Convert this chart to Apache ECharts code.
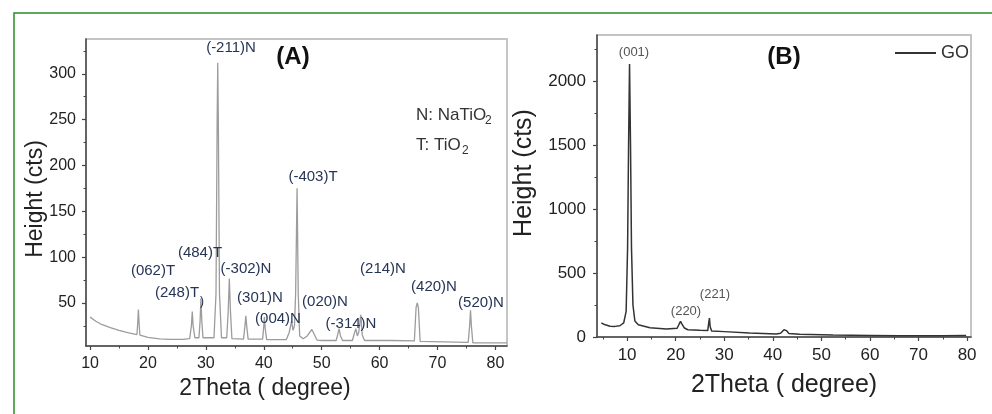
<!DOCTYPE html>
<html>
<head>
<meta charset="utf-8">
<script src="https://cdn.jsdelivr.net/npm/echarts@6.0.0/dist/echarts.min.js"></script>
<style>
  html, body { margin: 0; padding: 0; background: #fff; }
  #chart { width: 992px; height: 414px; }
</style>
</head>
<body>
<div id="chart"></div>
<script>
// (A) NaTiO2 / TiO2 pattern
const aTheta = [10.0, 11.0, 12.0, 13.5, 15.0, 16.5, 18.1, 18.25, 18.35, 18.45, 18.6, 20.0, 22.0, 24.0, 26.0,
  27.2, 27.5, 27.65, 27.8, 28.1, 28.8, 29.0, 29.15, 29.3, 29.5, 31.4, 31.75, 31.95, 32.05, 32.15, 32.35, 32.7,
  33.6, 33.85, 34.05, 34.25, 34.5, 36.5, 36.75, 36.9, 37.05, 37.3, 39.8, 40.0, 40.1, 40.25, 40.5,
  43.9, 44.4, 44.8, 45.05, 45.3, 45.5, 45.75, 45.95, 46.2, 46.8, 47.5, 48.3, 49.2, 50.0,
  52.5, 52.75, 53.0, 53.25, 53.6, 55.3, 55.7, 55.9, 56.15, 56.4, 56.75, 57.0, 57.4, 62.0, 66.0,
  66.3, 66.5, 66.7, 67.0, 75.3, 75.55, 75.7, 75.85, 76.1, 80.0, 82.0];
const aHeight = [34.5, 30, 26.5, 23, 20, 17.5, 15.5, 30, 42.7, 30, 15, 12.5, 10.8, 10.3, 10.3,
  11, 25, 40.5, 25, 12, 12, 30, 55, 30, 12, 12, 60, 250, 312, 250, 60, 12,
  12, 40, 76.5, 40, 11, 10.5, 25, 36, 25, 10.5, 10.5, 25, 35, 22, 10,
  10, 18, 30, 20, 25, 60, 175, 60, 14, 11, 14, 21, 9.5, 9,
  9, 15, 22, 14, 9, 9, 18, 22, 14, 18, 37, 15, 9, 9, 8.5,
  45, 50, 45, 8, 7, 25, 42, 25, 6.5, 6.5, 6.5];

// (B) GO pattern
const bTheta = [4.7, 5.5, 6.5, 7.5, 8.5, 9.3, 9.8, 10.1, 10.3, 10.5, 10.7, 10.9, 11.2, 11.6, 12.3, 14.7, 18.1,
  20.3, 20.7, 21.0, 21.3, 21.8, 22.5, 25.0, 26.6, 26.8, 26.95, 27.1, 27.4, 30.0, 35.2, 40.7, 41.6, 42.3,
  42.8, 43.3, 45.5, 52.4, 60.0, 66.0, 75.0, 79.8];
const bHeight = [109, 95, 84, 83, 88, 110, 200, 700, 1500, 2133, 1500, 700, 250, 125, 95, 72, 63,
  68, 100, 122, 100, 70, 57, 52, 50, 110, 148, 80, 47, 42, 31, 24, 30, 57,
  50, 28, 22, 15, 12, 10, 9, 12];

// tick positions
const aXTicks = [10, 20, 30, 40, 50, 60, 70, 80];
const aXMinor = [15, 25, 35, 45, 55, 65, 75];
const aYTicks = [50, 100, 150, 200, 250, 300];
const aYMinor = [25, 75, 125, 175, 225, 275, 325];
const bXTicks = [10, 20, 30, 40, 50, 60, 70, 80];
const bXMinor = [5, 15, 25, 35, 45, 55, 65, 75];
const bYTicks = [0, 500, 1000, 1500, 2000];
const bYMinor = [250, 750, 1250, 1750, 2250];

const FONT = '"Liberation Sans", Arial, sans-serif';
const AXIS_COLOR = '#444';

function mainAxis(grid, dim, min, max, ticks, fontSize, margin) {
  return {
    type: 'value', gridIndex: grid, min: min, max: max,
    position: dim === 'x' ? 'bottom' : 'left',
    splitLine: {show: false},
    axisLine: {show: true, onZero: false, lineStyle: {color: AXIS_COLOR, width: 1.5}},
    axisTick: {show: true, inside: false, length: 4, customValues: ticks, lineStyle: {color: AXIS_COLOR, width: 1.2}},
    axisLabel: {
      show: true, customValues: ticks, margin: margin, color: '#222', fontSize: fontSize, fontFamily: FONT,
      formatter: function (v) { return String(v); }
    }
  };
}
// second axis on the same grid, only for the small ticks
function minorAxis(grid, dim, min, max, ticks) {
  return {
    type: 'value', gridIndex: grid, min: min, max: max,
    position: dim === 'x' ? 'bottom' : 'left',
    splitLine: {show: false},
    axisLine: {show: false, onZero: false},
    axisTick: {show: true, inside: false, length: 2.5, customValues: ticks, lineStyle: {color: AXIS_COLOR, width: 1}},
    axisLabel: {show: false}
  };
}

function txt(x, y, s, size, color, opts) {
  opts = opts || {};
  return {
    type: 'text', x: x, y: y, rotation: opts.rotation || 0, z: 100,
    style: {
      text: s, fill: color,
      font: (opts.bold ? 'bold ' : '') + size + 'px ' + FONT,
      textAlign: opts.align || 'center', align: opts.align || 'center',
      textVerticalAlign: 'middle', verticalAlign: 'middle'
    }
  };
}

const PEAK = '#263456';
const labels = [
  txt(231, 48, '(-211)N', 15, PEAK),
  txt(293, 57, '(A)', 24, '#111', {bold: true}),
  txt(416, 115, 'N: NaTiO', 17, '#333', {align: 'left'}),
  txt(485, 121, '2', 12, '#333', {align: 'left'}),
  txt(416, 145, 'T: TiO', 17, '#333', {align: 'left'}),
  txt(462, 151, '2', 12, '#333', {align: 'left'}),
  txt(313, 177, '(-403)T', 15, PEAK),
  txt(200, 253, '(484)T', 15, PEAK),
  txt(153, 271, '(062)T', 15, PEAK),
  txt(246, 269, '(-302)N', 15, PEAK),
  txt(177, 293, '(248)T', 15, PEAK),
  txt(202, 302, ')', 12, PEAK),
  txt(260, 298, '(301)N', 15, PEAK),
  txt(278, 319, '(004)N', 15, PEAK),
  txt(325, 302, '(020)N', 15, PEAK),
  txt(351, 324, '(-314)N', 15, PEAK),
  txt(383, 269, '(214)N', 15, PEAK),
  txt(434, 287, '(420)N', 15, PEAK),
  txt(481, 303, '(520)N', 15, PEAK),
  txt(36, 199, 'Height (cts)', 23, '#222', {rotation: Math.PI / 2}),
  txt(265, 389, '2Theta ( degree)', 23, '#222'),

  txt(634, 52, '(001)', 13, '#555'),
  txt(784, 57, '(B)', 24, '#111', {bold: true}),
  txt(686, 311, '(220)', 13, '#555'),
  txt(715, 294, '(221)', 13, '#555'),
  txt(524, 173, 'Height (cts)', 25, '#222', {rotation: Math.PI / 2}),
  txt(784, 385, '2Theta ( degree)', 25, '#222'),

  {
    type: 'rect', z: 100, silent: true,
    shape: {x: 14, y: 13, width: 1000, height: 420},
    style: {fill: 'none', stroke: '#2a8c2a', lineWidth: 1.5}
  }
];

let myChart = echarts.init(document.getElementById('chart'), null, {renderer: 'canvas'});
myChart.setOption({
  animation: false,
  backgroundColor: '#fff',
  textStyle: {fontFamily: FONT},
  grid: [
    {left: 86, top: 39, right: 485, bottom: 68, show: true, borderColor: '#c4c4c4', borderWidth: 2, outerBoundsMode: 'none'},
    {left: 597, top: 35, right: 21, bottom: 77, show: true, borderColor: '#c4c4c4', borderWidth: 2, outerBoundsMode: 'none'}
  ],
  xAxis: [
    mainAxis(0, 'x', 9.3, 82, aXTicks, 16, 10),
    minorAxis(0, 'x', 9.3, 82, aXMinor),
    mainAxis(1, 'x', 3.8, 80.8, bXTicks, 17, 10),
    minorAxis(1, 'x', 3.8, 80.8, bXMinor)
  ],
  yAxis: [
    mainAxis(0, 'y', 3, 338, aYTicks, 16, 10),
    minorAxis(0, 'y', 3, 338, aYMinor),
    mainAxis(1, 'y', 0, 2360, bYTicks, 17, 11),
    minorAxis(1, 'y', 0, 2360, bYMinor)
  ],
  legend: {
    data: ['GO'], left: 890, top: 39, icon: 'rect', itemWidth: 41, itemHeight: 2, itemGap: 6,
    itemStyle: {color: '#333'},
    textStyle: {fontSize: 18, color: '#333', fontFamily: FONT}
  },
  series: [
    {
      name: 'NaTiO2', type: 'line', xAxisIndex: 0, yAxisIndex: 0,
      symbol: 'none', smooth: false, silent: true,
      lineStyle: {color: '#9c9c9c', width: 1.3},
      data: aTheta.map((t, i) => [t, aHeight[i]])
    },
    {
      name: 'GO', type: 'line', xAxisIndex: 2, yAxisIndex: 2,
      symbol: 'none', smooth: false, silent: true,
      itemStyle: {color: '#333'},
      lineStyle: {color: '#333', width: 1.5},
      data: bTheta.map((t, i) => [t, bHeight[i]])
    }
  ],
  graphic: labels
});
</script>
</body>
</html>
